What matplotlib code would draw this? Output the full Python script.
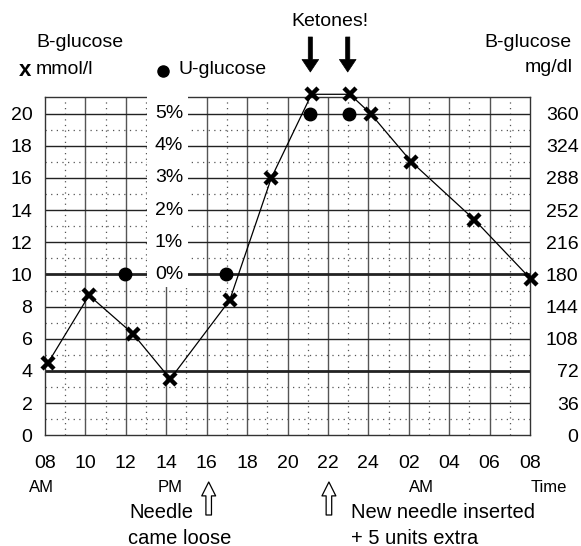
import matplotlib
matplotlib.use("Agg")
import matplotlib.pyplot as plt
from matplotlib.patches import Rectangle
from matplotlib.lines import Line2D

plt.rcParams['font.family'] = ['Liberation Sans', 'DejaVu Sans']

# Blood glucose (mmol/l) readings by clock hour (hours past midnight of day 1)
bg_hours = [8.15, 10.18, 12.36, 14.2, 17.14, 19.2, 21.19, 23.09, 24.11, 26.13, 29.25, 32.05]
bg_mmol = [4.5, 8.7, 6.3, 3.5, 8.4, 16.0, 21.2, 21.2, 20.0, 17.0, 13.4, 9.7]

# Urine glucose (%) readings
ug_hours = [11.97, 16.97, 21.1, 23.05]
ug_pct = [0, 0, 5, 5]

hour_ticks = list(range(8, 33, 2))
hour_labels = ['08', '10', '12', '14', '16', '18', '20', '22', '24', '02', '04', '06', '08']
mmol_ticks = list(range(0, 21, 2))
mgdl_ticks = list(range(0, 361, 36))
pct_ticks = [0, 1, 2, 3, 4, 5]

W, H = 581, 546
fig = plt.figure(figsize=(W / 100, H / 100), dpi=100)


def fx(x):
    return x / W


def fy(y):
    return 1 - y / H


ax_l, ax_r, ax_t, ax_b = 45, 530, 96.7, 435.3
ax = fig.add_axes([fx(ax_l), fy(ax_b), fx(ax_r - ax_l), (ax_b - ax_t) / H])
YTOP = 21.05
ax.set_xlim(8, 32)
ax.set_ylim(0, YTOP)


def pct_to_mmol(p):
    return 10 + 2 * p


# grid: solid every 2 units, dotted in between
for h in range(9, 32, 2):
    ax.axvline(h, color='#555', lw=0.9, ls=(0, (1, 3.5)), zorder=1)
for h in range(10, 32, 2):
    ax.axvline(h, color='#555', lw=1.0, zorder=1)
for v in range(1, 21, 2):
    ax.axhline(v, color='#555', lw=0.9, ls=(0, (1, 3.5)), zorder=1)
for v in range(2, 21, 2):
    lw = 2.0 if v in (4, 10) else 1.0
    ax.axhline(v, color='#222', lw=lw, zorder=1)

for s in ax.spines.values():
    s.set_color('#333')
    s.set_linewidth(1.0)

# blank panel holding the percentage scale
ax.add_patch(Rectangle((13.05, 9.25), 15.08 - 13.05, YTOP + 0.3 - 9.25,
                       facecolor='white', edgecolor='none', zorder=2.7, clip_on=False))
for p in pct_ticks:
    ax.text(14.83, pct_to_mmol(p), f'{p}%', ha='right', va='center',
            fontsize=14, zorder=3)

# data
ax.plot(bg_hours, bg_mmol, color='black', lw=0.9, marker='x', ms=8, mew=3.2,
        clip_on=False, zorder=4)
ax.plot(ug_hours, [pct_to_mmol(p) for p in ug_pct], ls='none', marker='o', ms=9,
        color='black', clip_on=False, zorder=4)

# axes ticks
ax.set_xticks(hour_ticks)
ax.set_xticklabels(hour_labels, fontsize=14)
ax.set_yticks(mmol_ticks)
ax.set_yticklabels([str(v) for v in mmol_ticks], fontsize=14)
ax.tick_params(axis='both', length=0)
ax.tick_params(axis='x', pad=14)
ax.tick_params(axis='y', pad=9)

ax2 = ax.twinx()
ax2.set_ylim(0, YTOP * 18)
ax2.set_yticks(mgdl_ticks)
ax2.set_yticklabels([str(v) for v in mgdl_ticks], fontsize=14, ha='right')
ax2.tick_params(axis='y', length=0, pad=35)
for s in ax2.spines.values():
    s.set_visible(False)

# headers
fig.text(fx(36), fy(43), 'B-glucose', fontsize=14, ha='left', va='center')
fig.text(fx(25), fy(70), 'x', fontsize=16, fontweight='bold', ha='center', va='center')
fig.text(fx(36), fy(70), 'mmol/l', fontsize=14, ha='left', va='center')
fig.add_artist(Line2D([fx(163)], [fy(71)], marker='o', ms=8, color='black',
                      transform=fig.transFigure))
fig.text(fx(179), fy(70), 'U-glucose', fontsize=14, ha='left', va='center')
fig.text(fx(572), fy(43), 'B-glucose', fontsize=14, ha='right', va='center')
fig.text(fx(573), fy(68), 'mg/dl', fontsize=14, ha='right', va='center')

# Ketones marker arrows
fig.text(fx(330), fy(21), 'Ketones!', fontsize=14, ha='center', va='center')
for h in (21.13, 22.98):
    ax.annotate('', xy=(h, H - 72), xytext=(h, H - 37),
                xycoords=('data', 'figure pixels'), textcoords=('data', 'figure pixels'),
                arrowprops=dict(arrowstyle='simple,head_length=0.45,head_width=0.6,tail_width=0.15',
                                mutation_scale=20, fc='black', ec='black', lw=0.5,
                                shrinkA=0, shrinkB=0))

# AM/PM sub-labels
for x, t in ((41, 'AM'), (170.5, 'PM'), (421.7, 'AM'), (548.7, 'Time')):
    fig.text(fx(x), fy(488), t, fontsize=12, ha='center', va='center')

# event arrows and notes
for h in (16.1, 22.05):
    ax.annotate('', xy=(h, H - 482), xytext=(h, H - 515),
                xycoords=('data', 'figure pixels'), textcoords=('data', 'figure pixels'),
                arrowprops=dict(arrowstyle='simple,head_length=0.5,head_width=0.5,tail_width=0.2',
                                mutation_scale=20, fc='white', ec='black', lw=0.9,
                                shrinkA=0, shrinkB=0),
                annotation_clip=False)

fig.text(fx(129), fy(513), 'Needle', fontsize=14.5, ha='left', va='center')
fig.text(fx(128), fy(538), 'came loose', fontsize=14.5, ha='left', va='center')
fig.text(fx(351), fy(513), 'New needle inserted', fontsize=14.5, ha='left', va='center')
fig.text(fx(351), fy(538), '+ 5 units extra', fontsize=14.5, ha='left', va='center')

fig.savefig('out.png', dpi=100)
